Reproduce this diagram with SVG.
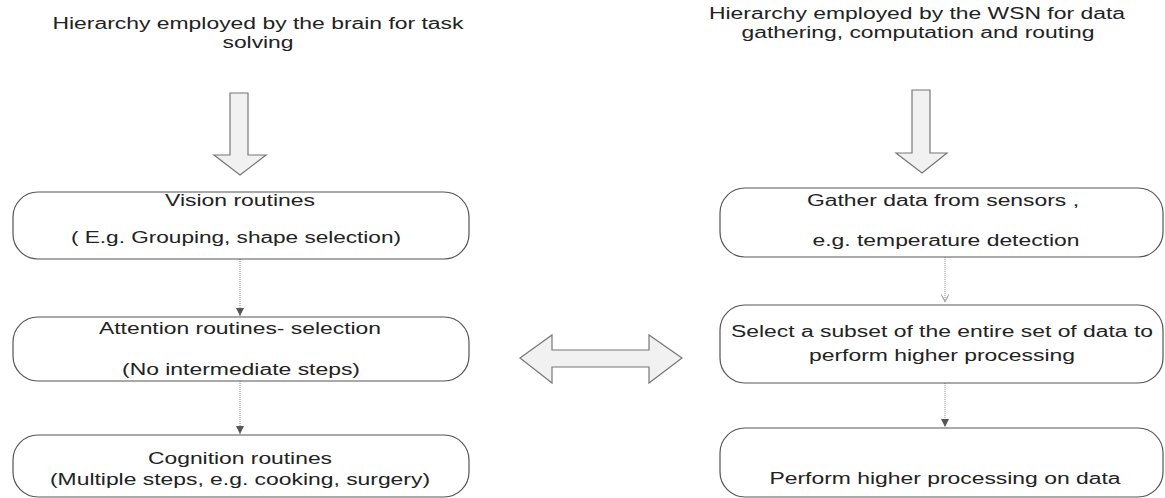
<svg xmlns="http://www.w3.org/2000/svg" width="1165" height="498" viewBox="0 0 1165 498">
<style>
text{font-family:"Liberation Sans",Arial,sans-serif;font-size:16px;fill:#222;text-anchor:middle}
.box{fill:#fff;stroke:#555;stroke-width:1.2}
.blk{fill:#f1f1f1;stroke:#777;stroke-width:1.2;stroke-linejoin:miter}
.con{stroke:#888;stroke-width:1;stroke-dasharray:1 1;fill:none}
</style>
<defs>
<marker id="ah" markerWidth="8" markerHeight="8" viewBox="0 0 8 8" refX="8" refY="4" orient="auto" markerUnits="userSpaceOnUse">
<path d="M0,0 L8,4 L0,8 z" fill="#555"/>
</marker>
<marker id="ahl" markerWidth="8" markerHeight="8" viewBox="0 0 8 8" refX="8" refY="4" orient="auto" markerUnits="userSpaceOnUse">
<path d="M0,0 L8,4 L0,8 M2,1 L7,4 L2,7" fill="none" stroke="#aaa" stroke-width="1"/>
</marker>
</defs>

<g id="title-left">
<text x="258" y="29" textLength="411" lengthAdjust="spacingAndGlyphs">Hierarchy employed by the brain for task</text>
<text x="258" y="48" textLength="71" lengthAdjust="spacingAndGlyphs">solving</text>
</g>
<g id="title-right">
<text x="917" y="19" textLength="416" lengthAdjust="spacingAndGlyphs">Hierarchy employed by the WSN for data</text>
<text x="918" y="38" textLength="353" lengthAdjust="spacingAndGlyphs">gathering, computation and routing</text>
</g>

<g id="arrow-down-left">
<polygon class="blk" points="230,93 248,93 248,155 266,155 240,175 214,155 230,155"/>
</g>
<g id="arrow-down-right">
<polygon class="blk" points="912,90 930,90 930,153 947,153 922,173 896,153 912,153"/>
</g>
<g id="arrow-double">
<polygon class="blk" points="520,358 552,335 552,350 649,350 649,335 682,358 649,383 649,367 552,367 552,383"/>
</g>

<g id="connectors">
<line class="con" x1="240" y1="259" x2="240" y2="316" marker-end="url(#ah)"/>
<line class="con" x1="240" y1="381" x2="240" y2="434" marker-end="url(#ah)"/>
<line class="con" x1="945" y1="257" x2="945" y2="302" marker-end="url(#ahl)"/>
<line class="con" x1="945" y1="383" x2="945" y2="427" marker-end="url(#ah)"/>
</g>

<g id="vision">
<rect class="box" x="13" y="192" width="456" height="67" rx="25" ry="25"/>
<text x="240" y="206" textLength="150" lengthAdjust="spacingAndGlyphs">Vision routines</text>
<text x="236" y="243" textLength="330" lengthAdjust="spacingAndGlyphs">( E.g. Grouping, shape selection)</text>
</g>
<g id="attention">
<rect class="box" x="13" y="317" width="456" height="64" rx="25" ry="25"/>
<text x="240" y="334" textLength="282" lengthAdjust="spacingAndGlyphs">Attention routines- selection</text>
<text x="241" y="375" textLength="238" lengthAdjust="spacingAndGlyphs">(No intermediate steps)</text>
</g>
<g id="cognition">
<rect class="box" x="13" y="435" width="456" height="62" rx="25" ry="25"/>
<text x="240" y="464" textLength="184" lengthAdjust="spacingAndGlyphs">Cognition routines</text>
<text x="240" y="485" textLength="380" lengthAdjust="spacingAndGlyphs">(Multiple steps, e.g. cooking, surgery)</text>
</g>

<g id="gather">
<rect class="box" x="720" y="188" width="443" height="69" rx="25" ry="25"/>
<text x="943" y="206" textLength="272" lengthAdjust="spacingAndGlyphs">Gather data from sensors ,</text>
<text x="946" y="246" textLength="267" lengthAdjust="spacingAndGlyphs">e.g. temperature detection</text>
</g>
<g id="select">
<rect class="box" x="720" y="305" width="443" height="78" rx="25" ry="25"/>
<text x="942" y="337" textLength="422" lengthAdjust="spacingAndGlyphs">Select a subset of the entire set of data to</text>
<text x="942" y="361" textLength="266" lengthAdjust="spacingAndGlyphs">perform higher processing</text>
</g>
<g id="perform">
<rect class="box" x="720" y="428" width="443" height="69" rx="25" ry="25"/>
<text x="945" y="484" textLength="351" lengthAdjust="spacingAndGlyphs">Perform higher processing on data</text>
</g>
</svg>
